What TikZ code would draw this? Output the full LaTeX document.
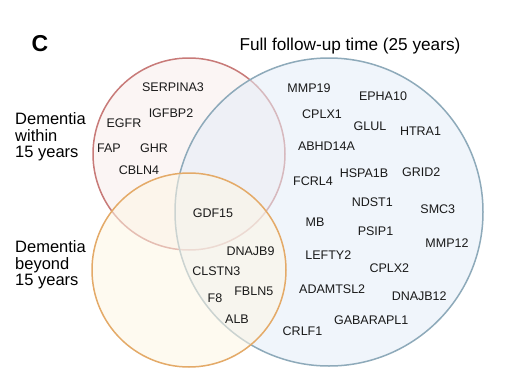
\documentclass[tikz,border=0pt]{standalone}
\usepackage{fontspec}
\setmainfont{Liberation Sans}
\definecolor{redline}{RGB}{200,122,120}
\definecolor{redfill}{RGB}{248,238,236}
\definecolor{blueline}{RGB}{142,170,186}
\definecolor{bluefill}{RGB}{228,237,248}
\definecolor{orangeline}{RGB}{228,170,104}
\definecolor{orangefill}{RGB}{254,246,228}
\begin{document}
\begin{tikzpicture}[x=1pt,y=-1pt,
  gene/.style={font=\fontsize{12.5}{14}\selectfont, inner sep=0pt, text=black!90},
  biglabel/.style={font=\fontsize{16.5}{16.5}\selectfont, align=left, inner sep=0pt, anchor=west},
  setcircle/.style={line width=1.5pt, fill opacity=0.55}]
\useasboundingbox (0,0) rectangle (506,391);
\fill[white] (0,0) rectangle (506,391);
% circles
\draw[setcircle, draw=redline, fill=redfill] (189,154) circle (96);
\draw[setcircle, draw=blueline, fill=bluefill] (329,212) circle (154);
\draw[setcircle, draw=orangeline, fill=orangefill] (189,270) circle (97);
% titles
\node[font=\bfseries\fontsize{23}{23}\selectfont, inner sep=0pt] (C) at (40,43.5) {C};
\node[font=\fontsize{17.2}{17.2}\selectfont, inner sep=0pt] (full) at (350,46.5) {Full follow-up time (25 years)};
\node[biglabel] (within) at (15,137) {Dementia\\within\\15 years};
\node[biglabel] (beyond) at (15,265) {Dementia\\beyond\\15 years};
% red only
\node[gene] (g1) at (173,86.7) {SERPINA3};
\node[gene] (g2) at (171,112.7) {IGFBP2};
\node[gene] (g3) at (124,122.7) {EGFR};
\node[gene] (g4) at (109,147.7) {FAP};
\node[gene] (g5) at (154,147.7) {GHR};
\node[gene] (g6) at (139,170) {CBLN4};
% triple
\node[gene] (g7) at (213,212.7) {GDF15};
% orange+blue
\node[gene] (g8) at (250.5,250.7) {DNAJB9};
\node[gene] (g9) at (216.3,270.7) {CLSTN3};
\node[gene] (g10) at (215,297.7) {F8};
\node[gene] (g11) at (253.8,291) {FBLN5};
\node[gene] (g12) at (237,319.3) {ALB};
% blue only
\node[gene] (b1) at (309,87.7) {MMP19};
\node[gene] (b2) at (383,96) {EPHA10};
\node[gene] (b3) at (322,114) {CPLX1};
\node[gene] (b4) at (370,125.7) {GLUL};
\node[gene] (b5) at (420.5,131) {HTRA1};
\node[gene] (b6) at (326.5,145.7) {ABHD14A};
\node[gene] (b7) at (364,172.7) {HSPA1B};
\node[gene] (b8) at (421.3,172) {GRID2};
\node[gene] (b9) at (313,181) {FCRL4};
\node[gene] (b10) at (372.3,201.7) {NDST1};
\node[gene] (b11) at (437.8,209.3) {SMC3};
\node[gene] (b12) at (315,222.3) {MB};
\node[gene] (b13) at (375.5,231.3) {PSIP1};
\node[gene] (b14) at (447,243.3) {MMP12};
\node[gene] (b15) at (328.3,255) {LEFTY2};
\node[gene] (b16) at (389.3,267.7) {CPLX2};
\node[gene] (b17) at (332.2,289.3) {ADAMTSL2};
\node[gene] (b18) at (419.2,296) {DNAJB12};
\node[gene] (b19) at (371.2,320) {GABARAPL1};
\node[gene] (b20) at (302.5,330.7) {CRLF1};
\end{tikzpicture}
\end{document}
